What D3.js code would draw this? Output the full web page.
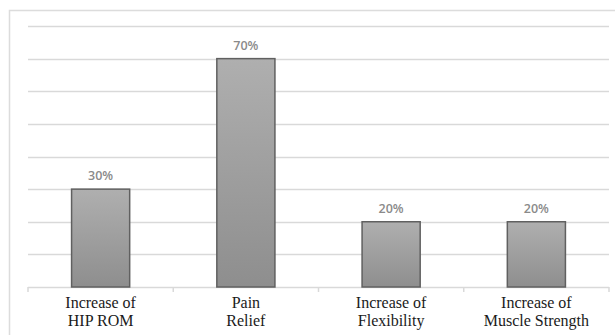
<!DOCTYPE html>
<html>
<head>
<meta charset="utf-8">
<script src="https://cdn.jsdelivr.net/npm/d3@7"></script>
<style>
  html, body { margin: 0; padding: 0; background: #fff; }
  svg { display: block; }
</style>
</head>
<body>
<svg id="chart" width="615" height="335"></svg>
<script>
// Outcome categories (two-line labels) and their percentages
const categories = ["Increase of\nHIP ROM", "Pain\nRelief", "Increase of\nFlexibility", "Increase of\nMuscle Strength"];
const values = [30, 70, 20, 20];
const gridTicks = [10, 20, 30, 40, 50, 60, 70, 80];

const W = 615, H = 335;
const margin = { left: 28, right: 6, top: 26, bottom: 48 };
const svg = d3.select("#chart");

// gradient for the bars
const defs = svg.append("defs");
const grad = defs.append("linearGradient")
  .attr("id", "barFill").attr("x1", 0).attr("y1", 0).attr("x2", 0).attr("y2", 1);
grad.append("stop").attr("offset", "0%").attr("stop-color", "#afafaf");
grad.append("stop").attr("offset", "100%").attr("stop-color", "#8e8e8e");

// outer chart frame
svg.append("rect")
  .attr("x", 9.5).attr("y", 10.5)
  .attr("width", W + 20).attr("height", H + 20)
  .attr("fill", "none").attr("stroke", "#dcdcdc").attr("stroke-width", 1.5);

const x = d3.scaleBand()
  .domain(categories)
  .range([margin.left, W - margin.right])
  .paddingInner(0.6).paddingOuter(0.3);

const y = d3.scaleLinear()
  .domain([0, 80])
  .range([H - margin.bottom, margin.top]);

// horizontal gridlines
svg.append("g")
  .selectAll("line")
  .data(gridTicks)
  .join("line")
  .attr("x1", margin.left).attr("x2", W - margin.right)
  .attr("y1", d => Math.round(y(d)) + 0.5).attr("y2", d => Math.round(y(d)) + 0.5)
  .attr("stroke", "#d9d9d9").attr("stroke-width", 1.5);

// category axis: baseline with tick marks between categories
const step = x.step();
const boundaries = d3.range(categories.length + 1).map(i => margin.left + i * step);
const axis = svg.append("g");
axis.append("line")
  .attr("x1", margin.left).attr("x2", W - margin.right)
  .attr("y1", y(0) + 0.5).attr("y2", y(0) + 0.5)
  .attr("stroke", "#d9d9d9").attr("stroke-width", 1.5);
axis.selectAll("line.tick")
  .data(boundaries)
  .join("line").attr("class", "tick")
  .attr("x1", d => d).attr("x2", d => d)
  .attr("y1", y(0)).attr("y2", y(0) + 5)
  .attr("stroke", "#d9d9d9").attr("stroke-width", 1.5);

// bars
svg.append("g")
  .selectAll("rect")
  .data(values)
  .join("rect")
  .attr("x", (d, i) => x(categories[i]))
  .attr("y", d => y(d))
  .attr("width", x.bandwidth())
  .attr("height", d => y(0) - y(d))
  .attr("fill", "url(#barFill)")
  .attr("stroke", "#606060").attr("stroke-width", 1.5);

// value labels
svg.append("g")
  .selectAll("text")
  .data(values)
  .join("text")
  .attr("x", (d, i) => x(categories[i]) + x.bandwidth() / 2)
  .attr("y", d => y(d) - 9)
  .attr("text-anchor", "middle")
  .attr("font-family", "'Open Sans', sans-serif")
  .attr("font-size", "12.5px")
  .attr("font-weight", 600)
  .attr("fill", "#8a8a8a")
  .text(d => d + "%");

// category labels
const labels = svg.append("g")
  .selectAll("text")
  .data(categories)
  .join("text")
  .attr("x", d => x(d) + x.bandwidth() / 2)
  .attr("y", y(0) + 21)
  .attr("text-anchor", "middle")
  .attr("font-family", "'Liberation Serif', 'Times New Roman', serif")
  .attr("font-size", "16px")
  .attr("fill", "#1a1a1a");
labels.each(function(d) {
  const t = d3.select(this);
  d.split("\n").forEach((line, i) => {
    t.append("tspan")
      .attr("x", t.attr("x"))
      .attr("dy", i === 0 ? 0 : 18)
      .text(line);
  });
});
</script>
</body>
</html>
